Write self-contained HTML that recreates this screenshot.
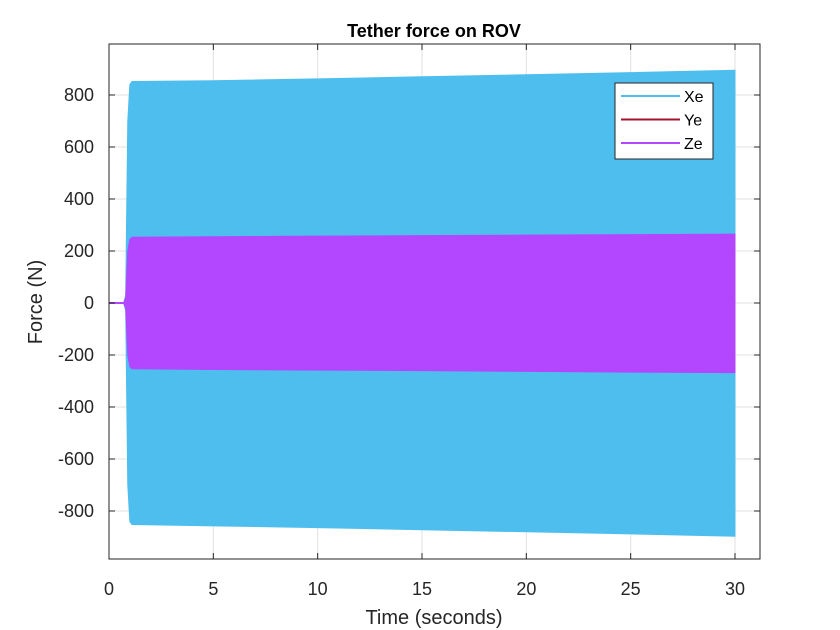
<!DOCTYPE html>
<html><head><meta charset="utf-8"><style>
body{margin:0;background:#fff;}
svg{display:block;font-family:"Liberation Sans",sans-serif;}
</style></head><body>
<svg id="chart" width="840" height="630"></svg>
<script>
const timeS=[0,0.7,0.8,0.9,1.0,1.1,5,10,15,20,25,30];
const xeUpper=[0,0,30,700,840,852,855,862,870,878,886,895];
const xeLower=[0,0,-30,-700,-840,-852,-857,-864,-872,-880,-888,-897];
const zeUpper=[0,0,20,200,245,253,255,257,259,261,263,265];
const zeLower=[0,0,-20,-200,-245,-253,-256,-258,-260,-263,-266,-268];
const xTicks=[0,5,10,15,20,25,30];
const yTicks=[-800,-600,-400,-200,0,200,400,600,800];
const legendLabels=['Xe','Ye','Ze'];
const legendColors=['#4dbeee','#a2142f','#b346ff'];

const NS='http://www.w3.org/2000/svg';
const svg=document.getElementById('chart');
const L=109,R=760,T=44,B=559;
const sx=t=>109+t*(735-109)/30;
const sy=v=>303-v*(303-95)/800;
function mk(tag,attrs,parent){const e=document.createElementNS(NS,tag);for(const k in attrs)e.setAttribute(k,attrs[k]);(parent||svg).appendChild(e);return e;}

const grid=mk('g',{});


xTicks.forEach(t=>mk('line',{x1:sx(t),x2:sx(t),y1:T,y2:B,stroke:'#e0e0e0','stroke-width':1},grid));
yTicks.forEach(v=>mk('line',{x1:L,x2:R,y1:sy(v),y2:sy(v),stroke:'#e0e0e0','stroke-width':1},grid));

function band(up,lo,color,name){
  let pts=timeS.map((t,i)=>sx(t)+','+sy(up[i]));
  for(let i=timeS.length-1;i>=0;i--)pts.push(sx(timeS[i])+','+sy(lo[i]));
  const p=mk('polygon',{points:pts.join(' '),fill:color,stroke:color,'stroke-width':1});
  
  
}
band(xeUpper,xeLower,'#4dbeee','series-xe');
band(zeUpper,zeLower,'#b346ff','series-ze');
const zl=mk('line',{x1:sx(0),x2:sx(0.8),y1:sy(0),y2:sy(0),stroke:'#b346ff','stroke-width':2});



const ax=mk('g',{});


mk('rect',{x:L,y:T,width:R-L,height:B-T,fill:'none',stroke:'#262626','stroke-width':1},ax);
xTicks.forEach(t=>{
  mk('line',{x1:sx(t),x2:sx(t),y1:B,y2:B-6,stroke:'#262626'},ax);
  mk('line',{x1:sx(t),x2:sx(t),y1:T,y2:T+6,stroke:'#262626'},ax);
  const tx=mk('text',{x:sx(t),y:B+36,'text-anchor':'middle','font-size':18,fill:'#262626'},ax);
  tx.textContent=t;
  
  
});
yTicks.forEach(v=>{
  mk('line',{x1:L,x2:L+6,y1:sy(v),y2:sy(v),stroke:'#262626'},ax);
  mk('line',{x1:R,x2:R-6,y1:sy(v),y2:sy(v),stroke:'#262626'},ax);
  const tx=mk('text',{x:L-15,y:sy(v)+6,'text-anchor':'end','font-size':18,fill:'#262626'},ax);
  tx.textContent=v;
  
  
});
const title=mk('text',{x:434,y:37,'text-anchor':'middle','font-size':18,'font-weight':'bold',fill:'#000'});
title.textContent='Tether force on ROV';


const xt=mk('text',{x:434,y:624,'text-anchor':'middle','font-size':20,fill:'#262626'});
xt.textContent='Time (seconds)';


const yt=mk('text',{x:0,y:0,'text-anchor':'middle','font-size':20,fill:'#262626',transform:'translate(42,302) rotate(-90)'});
yt.textContent='Force (N)';



const lg=mk('g',{});


mk('rect',{x:615,y:83,width:98,height:76,fill:'#fff',stroke:'#262626','stroke-width':1},lg);
legendLabels.forEach((lab,i)=>{
  const y=96+i*23.5;
  const e=mk('g',{},lg);
  
  
  mk('line',{x1:621,x2:680,y1:y,y2:y,stroke:legendColors[i],'stroke-width':2},e);
  const tx=mk('text',{x:684,y:y+6,'font-size':16,fill:'#000'},e);
  tx.textContent=lab;
});
</script>
</body></html>
